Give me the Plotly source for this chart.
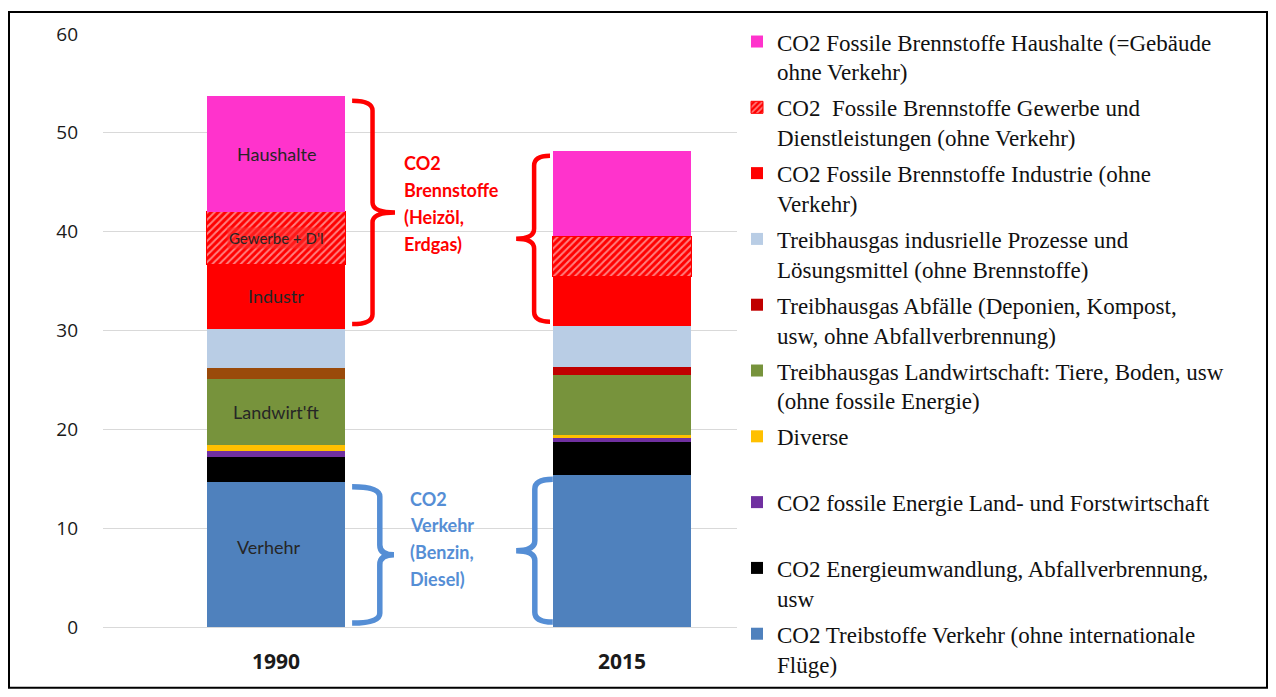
import plotly.graph_objects as go

# ── data (Mio. t CO2-eq), stack order bottom -> top ──────────────
years = ["1990", "2015"]

verkehr          = [14.65, 15.40]
energieumwandl   = [2.60, 3.33]
land_forst       = [0.57, 0.43]
diverse          = [0.57, 0.27]
landwirtschaft   = [6.75, 6.07]
abfaelle         = [1.06, 0.84]
prozesse         = [4.00, 4.10]
industrie        = [6.50, 5.00]
gewerbe          = [5.30, 4.10]
haushalte        = [11.70, 8.60]

names = [
    "CO2 Treibstoffe Verkehr (ohne internationale<br>Flüge)",
    "CO2 Energieumwandlung, Abfallverbrennung,<br>usw",
    "CO2 fossile Energie Land- und Forstwirtschaft<br> ",
    "Diverse<br> ",
    "Treibhausgas Landwirtschaft: Tiere, Boden, usw<br>(ohne fossile Energie)",
    "Treibhausgas Abfälle (Deponien, Kompost,<br>usw, ohne Abfallverbrennung)",
    "Treibhausgas indusrielle Prozesse und<br>Lösungsmittel (ohne Brennstoffe)",
    "CO2 Fossile Brennstoffe Industrie (ohne<br>Verkehr)",
    "CO2  Fossile Brennstoffe Gewerbe und<br>Dienstleistungen (ohne Verkehr)",
    "CO2 Fossile Brennstoffe Haushalte (=Gebäude<br>ohne Verkehr)",
]
series = [verkehr, energieumwandl, land_forst, diverse, landwirtschaft,
          abfaelle, prozesse, industrie, gewerbe, haushalte]
colors = ["#4F81BD", "#000000", "#7030A0", "#FFC000", "#77933C",
          ["#9A4A0A", "#C00000"], "#B9CDE5", "#FF0000", "#FF0000", "#FF33CC"]

bar_labels_1990 = ["Verhehr", "", "", "", "Landwirt'ft", "", "", "Industr",
                   "Gewerbe + D'l", "Haushalte"]

brace_red_text = ["CO2", "Brennstoffe", "(Heizöl,", "Erdgas)"]
brace_blue_text = ["CO2", "Verkehr", "(Benzin,", "Diesel)"]

RED = "#FF0000"
BLUE = "#558ED5"

# page has an 8px body margin -> figure is 16px smaller than the window
W, H = 1260, 681
ML, MR, MT, MB = 95, 473, 23, 62
pw, ph = W - ML - MR, H - MT - MB

fig = go.Figure()
for i, (nm, vals, clr) in enumerate(zip(names, series, colors)):
    xs, ys = years, vals
    if isinstance(clr, list):
        # legend symbol takes the colour of the first point -> list 2015 first
        xs, ys, clr = years[::-1], vals[::-1], clr[::-1]
    marker = dict(color=clr, line=dict(width=0))
    if i == 8:
        marker = dict(color=RED, line=dict(color=RED, width=1),
                      pattern=dict(shape="/", fgcolor="#FFFFFF", bgcolor=RED,
                                   size=5, solidity=0.4))
    fig.add_trace(go.Bar(x=xs, y=ys, name=nm, marker=marker,
                         legendgroup=str(i), legendrank=100 - i,
                         hoverinfo="y+name"))

# cumulative tops for positioning labels / braces
cum = []
acc = [0.0, 0.0]
for vals in series:
    acc = [acc[0] + vals[0], acc[1] + vals[1]]
    cum.append(acc)

# labels inside the 1990 bar
for i, lbl in enumerate(bar_labels_1990):
    if not lbl:
        continue
    base = cum[i - 1][0] if i > 0 else 0.0
    mid = (base + cum[i][0]) / 2
    extra = dict()
    size = 18
    if i == 8:
        extra = dict(bgcolor="rgba(255,40,40,0.6)")
        size = 15
    fig.add_annotation(x=0, y=mid, xref="x", yref="y", text=lbl, showarrow=False,
                       font=dict(family="Lato", size=size, color="#262626"),
                       xshift=-8 if i == 0 else 0, yshift=8 if i == 0 else 0,
                       **extra)


def brace_path(x_arm, x_spine, x_tip, y_top, y_bot, r=1.0):
    ym = (y_top + y_bot) / 2
    return (f"M{x_arm},{y_top} Q{x_spine},{y_top} {x_spine},{y_top - r} "
            f"L{x_spine},{ym + r} Q{x_spine},{ym} {x_tip},{ym} "
            f"Q{x_spine},{ym} {x_spine},{ym - r} "
            f"L{x_spine},{y_bot + r} Q{x_spine},{y_bot} {x_arm},{y_bot}")


ins = 0.45
braces = [
    # x_arm, x_spine, x_tip, y_top, y_bot, colour, width
    (0.22, 0.279, 0.344, cum[9][0] - ins, cum[6][0] + ins, RED, 4.5),
    (0.22, 0.300, 0.341, cum[0][0] - ins, 0.4, BLUE, 5.5),
    (0.792, 0.746, 0.694, cum[9][1] - ins, cum[6][1] + ins, RED, 4.5),
    (0.80, 0.748, 0.694, cum[0][1] - ins, 0.5, BLUE, 5.5),
]
for xa, xs_, xt, yt, yb, clr, lw in braces:
    fig.add_shape(type="path", xref="x", yref="y",
                  path=brace_path(xa, xs_, xt, yt, yb),
                  line=dict(color=clr, width=lw), fillcolor="rgba(0,0,0,0)")

for lines, x0, y0, clr in [(brace_red_text, 0.364, 46.9, RED),
                           (brace_blue_text, 0.382, 13.0, BLUE)]:
    for k, t in enumerate(lines):
        fig.add_annotation(x=x0, y=y0 - k * 2.7, xref="x", yref="y", text=f"<b>{t}</b>",
                           showarrow=False, xanchor="left",
                           font=dict(family="Lato", size=18, color=clr))

# outer frame
fig.add_shape(type="rect", xref="paper", yref="paper",
              x0=(1 - ML) / pw, x1=(W - 1 - ML) / pw,
              y0=(H - MB - (H - 1)) / ph, y1=(H - MB - 1) / ph,
              line=dict(color="#000000", width=2), fillcolor="rgba(0,0,0,0)")

fig.update_layout(
    width=W, height=H,
    barmode="stack", bargap=0.6,
    paper_bgcolor="#FFFFFF", plot_bgcolor="#FFFFFF",
    margin=dict(l=ML, r=MR, t=MT, b=MB),
    showlegend=True,
    legend=dict(
        x=(729 - ML) / pw, xanchor="left",
        y=(H - MB - 9) / ph, yanchor="top",
        traceorder="grouped", tracegroupgap=3,
        valign="top", bgcolor="#FFFFFF", maxheight=900,
        font=dict(family="Liberation Serif", size=23, color="#111111"),
    ),
)
fig.update_xaxes(type="category", categoryorder="array", categoryarray=years,
                 showgrid=False, showline=False, zeroline=False,
                 tickfont=dict(family="Open Sans", size=21, color="#1A1A1A", weight="bold"),
                 ticklabelstandoff=20)
fig.update_yaxes(range=[0, 60], tickvals=[0, 10, 20, 30, 40, 50, 60],
                 showgrid=True, gridcolor="#D9D9D9", gridwidth=1,
                 zeroline=True, zerolinecolor="#D9D9D9", zerolinewidth=1,
                 showline=False,
                 tickfont=dict(family="Open Sans", size=19, color="#1A1A1A"),
                 ticklabelstandoff=24)

fig.write_html("out.html")
